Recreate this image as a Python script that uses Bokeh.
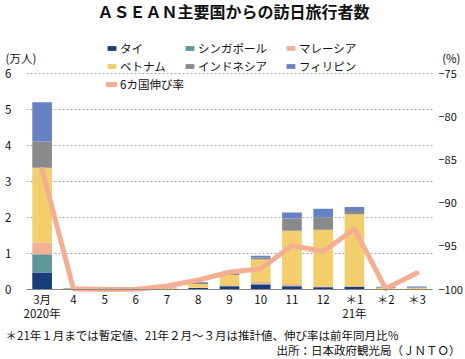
from bokeh.plotting import figure
from bokeh.models import (Range1d, LinearAxis, FixedTicker, Label, Legend, LegendItem,
                          ColumnDataSource)
from bokeh.embed import file_html
from bokeh.resources import INLINE

# ---- data ----
months = ["3月", "4", "5", "6", "7", "8", "9", "10", "11", "12", "＊1", "＊2", "＊3"]
series_names = ["タイ", "シンガポール", "マレーシア", "ベトナム", "インドネシア", "フィリピン"]
thai        = [0.47, 0.002, 0.001, 0.001, 0.010, 0.040, 0.09, 0.14, 0.09, 0.06, 0.07, 0.010, 0.010]
singapore   = [0.51, 0.020, 0.001, 0.001, 0.002, 0.005, 0.01, 0.02, 0.02, 0.01, 0.01, 0.002, 0.002]
malaysia    = [0.32, 0.003, 0.001, 0.001, 0.002, 0.005, 0.02, 0.05, 0.04, 0.02, 0.02, 0.003, 0.003]
vietnam     = [2.08, 0.005, 0.002, 0.003, 0.030, 0.100, 0.28, 0.62, 1.48, 1.57, 1.99, 0.030, 0.030]
indonesia   = [0.73, 0.010, 0.001, 0.002, 0.005, 0.030, 0.03, 0.06, 0.34, 0.34, 0.09, 0.010, 0.010]
philippines = [1.09, 0.005, 0.001, 0.001, 0.005, 0.020, 0.02, 0.05, 0.17, 0.24, 0.11, 0.020, 0.030]
growth = [-86.1, -99.9, -100.0, -99.97, -99.6, -98.9, -98.0, -97.6, -94.9, -95.6, -93.0, -99.9, -98.1]
line_name = "6カ国伸び率"
left_ticks = [0, 1, 2, 3, 4, 5, 6]
right_ticks = [-100, -95, -90, -85, -80, -75]
year_labels = {0: "2020年", 10: "21年"}

colors = ["#173E78", "#5E9896", "#F3B193", "#F2CF6C", "#8A8A8A", "#6782C2"]
line_color = "#F4AE92"
JP = "Noto Sans CJK JP"
TXT = "#111111"

# ---- layout (pixels inside the canvas) ----
W, H = 465, 359
PX_L, PX_R = 26, 432      # x pixel of category band start / end
PY_TOP, PY_0 = 73, 289    # y pixel of value 6 / value 0 (from top)

n = len(months)
ymax = max(left_ticks)
xppu = (PX_R - PX_L) / n
yppu = (PY_0 - PY_TOP) / ymax
x0, x1 = -0.5 - PX_L / xppu, n - 0.5 + (W - PX_R) / xppu
y0, y1 = -(H - PY_0) / yppu, ymax + PY_TOP / yppu
r_lo, r_hi = min(right_ticks), max(right_ticks)
rs = (r_hi - r_lo) / ymax

xs = list(range(n))
src = ColumnDataSource(dict(x=xs, タイ=thai, シンガポール=singapore, マレーシア=malaysia,
                            ベトナム=vietnam, インドネシア=indonesia, フィリピン=philippines,
                            growth=growth))

p = figure(width=W, height=H, output_backend="svg", toolbar_location=None,
           x_range=Range1d(x0, x1), y_range=Range1d(y0, y1),
           min_border=0, outline_line_color=None)
p.extra_y_ranges = {"pct": Range1d(r_lo + y0 * rs, r_lo + y1 * rs)}

# dotted grid lines, limited to the category band
g = left_ticks[1:]
p.segment(x0=[-0.5] * len(g), x1=[n - 0.5] * len(g), y0=g, y1=g,
          line_color="#aaaaaa", line_width=1, line_dash="2 2")

renderers = p.vbar_stack(series_names, x="x", width=0.63, source=src,
                         fill_color=colors, line_color=None)
line_r = p.line("x", "growth", source=src, y_range_name="pct",
                line_color=line_color, line_width=5, line_join="round", line_cap="round")

p.xgrid.visible = False
p.ygrid.visible = False

def style_axis(ax, standoff, size="11.5px"):
    ax.axis_line_color = None
    ax.major_tick_line_color = None
    ax.minor_tick_line_color = None
    ax.major_label_standoff = standoff
    ax.major_label_text_font = JP
    ax.major_label_text_font_size = size
    ax.major_label_text_color = TXT

# axes at fixed positions
p.yaxis.fixed_location = -0.5
p.yaxis.ticker = FixedTicker(ticks=left_ticks)
style_axis(p.yaxis[0], 9)

p.xaxis.fixed_location = 0
p.xaxis.bounds = (-0.5, n - 0.5)
p.xaxis.ticker = FixedTicker(ticks=xs)
p.xaxis.major_label_overrides = {i: m for i, m in enumerate(months)}
style_axis(p.xaxis[0], -5)
p.xaxis.axis_line_color = "#888888"

ra = LinearAxis(y_range_name="pct", ticker=FixedTicker(ticks=right_ticks),
                fixed_location=n - 0.5)
style_axis(ra, 0, "11px")
p.add_layout(ra, "right")

# legend: three columns, each its own legend
rmap = dict(zip(series_names, renderers))
rmap[line_name] = line_r
columns = [([series_names[0], series_names[3], line_name], 106),
           ([series_names[1], series_names[4]], 184),
           ([series_names[2], series_names[5]], 285)]
ITEM_H, SP, TOP = 16, 2, 40
for names, lx in columns:
    hgt = len(names) * ITEM_H + (len(names) - 1) * SP
    leg = Legend(items=[LegendItem(label=nm, renderers=[rmap[nm]]) for nm in names],
                 orientation="vertical", location=(lx, H - TOP - hgt),
                 border_line_color=None, background_fill_alpha=0, margin=0, padding=0,
                 spacing=SP, label_standoff=3, glyph_width=11, glyph_height=6,
                 label_height=12, label_text_font=JP, label_text_font_size="11.5px",
                 label_text_color=TXT)
    p.add_layout(leg, "center")

def add_label(text, x, y_from_top, size, align="left", bold=False, xunits="screen"):
    p.add_layout(Label(x=x, y=H - y_from_top, x_units=xunits, y_units="screen", text=text,
                       text_font=JP, text_font_size=size, text_align=align,
                       text_baseline="middle", text_color=TXT,
                       text_font_style="bold" if bold else "normal"))

add_label("ＡＳＥＡＮ主要国からの訪日旅行者数", 233, 10, "16px", "center", bold=True)
add_label("(万人)", 5, 57, "11.5px")
add_label("(%)", 460, 57, "11.5px", "right")
for k, t in year_labels.items():
    add_label(t, k, 312, "11.5px", "center", xunits="data")
add_label("＊21年１月までは暫定値、21年２月～３月は推計値、伸び率は前年同月比％", 5, 334, "11.5px")
add_label("出所：日本政府観光局（ＪＮＴＯ）", 460, 349, "11.5px", "right")

open("out.html", "w").write(file_html(p, INLINE))
